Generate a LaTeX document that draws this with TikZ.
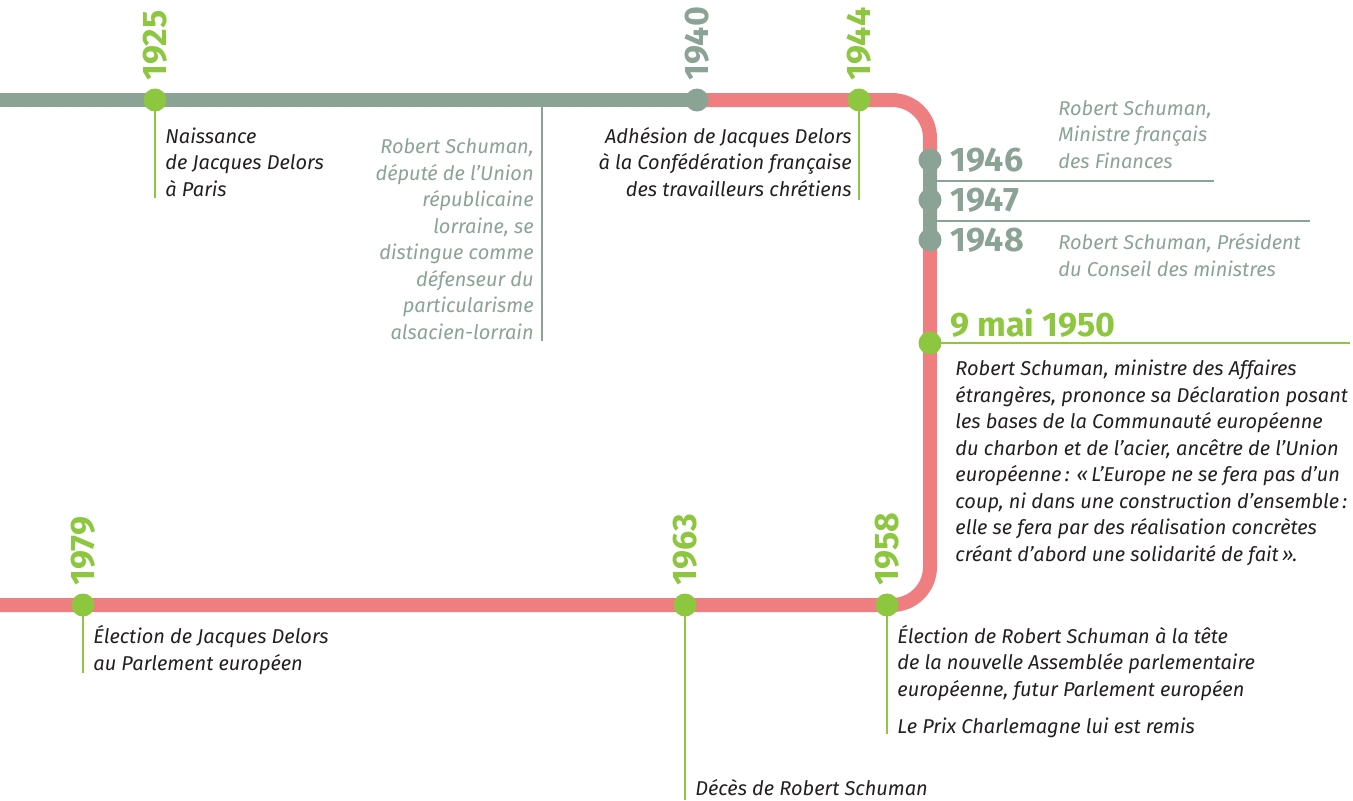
\documentclass[tikz,border=0pt]{standalone}
\usepackage{fontspec}
\setmainfont{Fira Sans}
\usetikzlibrary{backgrounds}
\definecolor{sgreen}{HTML}{8DC63F}
\definecolor{sgrey}{HTML}{8BA394}
\definecolor{spink}{HTML}{EF7E80}
\definecolor{stext}{HTML}{231F20}
\begin{document}
\begin{tikzpicture}[x=0.5pt,y=-0.5pt,
  dot/.style={circle, fill, inner sep=0pt, minimum size=11.5pt},
  track/.style={line width=7pt},
  tick/.style={line width=1.25pt},
  year/.style={font=\fontsize{17}{17}\selectfont\bfseries, inner sep=0pt},
  vyear/.style={year, rotate=90, anchor=west},
  txt/.style={font=\fontsize{10}{13.25}\selectfont\itshape, inner sep=0pt, text=stext},
  gtxt/.style={txt, text=sgrey}]
\useasboundingbox (0,0) rectangle (1353,800);
% route of the line
\coordinate (wtop) at (0,100);
\coordinate (ne) at (930,100);
\coordinate (se) at (930,605);
\coordinate (wbot) at (0,605);
% dates
\node[dot, sgreen] (d1925) at (155,100){};
\node[dot, sgrey] (d1940) at (697,100){};
\node[dot, sgreen] (d1944) at (859,100){};
\node[dot, sgrey] (d1946) at (930,160){};
\node[dot, sgrey] (d1947) at (930,200){};
\node[dot, sgrey] (d1948) at (930,240){};
\node[dot, sgreen] (d1950) at (930,343){};
\node[dot, sgreen] (d1958) at (887,605){};
\node[dot, sgreen] (d1963) at (685,605){};
\node[dot, sgreen] (d1979) at (83,605){};
% tick ends
\coordinate (e1925) at (155,198);
\coordinate (g1) at (542,107);
\coordinate (g2) at (542,341);
\coordinate (e1944) at (859,200);
\coordinate (s1) at (930,181);
\coordinate (s1e) at (1214,181);
\coordinate (s2) at (930,221);
\coordinate (s2e) at (1310,221);
\coordinate (e1950) at (1350,343);
\coordinate (e1958) at (887,734);
\coordinate (e1963) at (685,800);
\coordinate (e1979) at (83,673);
\begin{scope}[on background layer]
\draw[track, sgrey] (wtop) -- (d1940.center);
\draw[track, spink, rounded corners=19pt] (d1940.center) -- (ne) -- (se) -- (wbot);
\draw[track, sgrey] (d1946.center) -- (d1948.center);
\draw[tick, sgreen] (d1925.center) -- (e1925);
\draw[tick, sgrey] (g1) -- (g2);
\draw[tick, sgreen] (d1944.center) -- (e1944);
\draw[tick, sgrey] (s1) -- (s1e);
\draw[tick, sgrey] (s2) -- (s2e);
\draw[tick, sgreen] (d1950.center) -- (e1950);
\draw[tick, sgreen] (d1958.center) -- (e1958);
\draw[tick, sgreen] (d1963.center) -- (e1963);
\draw[tick, sgreen] (d1979.center) -- (e1979);
\end{scope}
% years
\node[vyear, sgreen] (y1925) at (155,81) {1925};
\node[vyear, sgrey] (y1940) at (697,81) {1940};
\node[vyear, sgreen] (y1944) at (859,81) {1944};
\node[vyear, sgreen] (y1979) at (83,586) {1979};
\node[vyear, sgreen] (y1963) at (685,586) {1963};
\node[vyear, sgreen] (y1958) at (887,586) {1958};
\node[year, sgrey, anchor=base west] (y1946) at (950,171) {1946};
\node[year, sgrey, anchor=base west] (y1947) at (950,211) {1947};
\node[year, sgrey, anchor=base west] (y1948) at (950,251) {1948};
\node[year, sgreen, anchor=base west] (y1950) at (950,336) {9 mai 1950};
% events (anchored at the last baseline)
\node[txt, align=left, anchor=base west] (t1925) at (165,196) {Naissance\\de Jacques Delors\\à Paris};
\node[gtxt, align=right, anchor=base east] (t1940) at (534,339) {Robert Schuman,\\député de l’Union\\républicaine\\lorraine, se\\distingue comme\\défenseur du\\particularisme\\alsacien-lorrain};
\node[txt, align=right, anchor=base east] (t1944) at (852,196) {Adhésion de Jacques Delors\\à la Confédération française\\des travailleurs chrétiens};
\node[gtxt, align=left, anchor=base west] (t1946) at (1058,168) {Robert Schuman,\\Ministre français\\des Finances};
\node[gtxt, align=left, anchor=base west] (t1948) at (1058,276) {Robert Schuman, Président\\du Conseil des ministres};
\node[txt, align=left, anchor=base west] (t1950) at (955,561) {Robert Schuman, ministre des Affaires\\étrangères, prononce sa Déclaration posant\\les bases de la Communauté européenne\\du charbon et de l’acier, ancêtre de l’Union\\européenne\,: «\,L’Europe ne se fera pas d’un\\coup, ni dans une construction d’ensemble\,:\\elle se fera par des réalisation concrètes\\créant d’abord une solidarité de fait\,».};
\node[txt, align=left, anchor=base west] (t1979) at (93,670) {Élection de Jacques Delors\\au Parlement européen};
\node[txt, align=left, anchor=base west] (t1958) at (897,696) {Élection de Robert Schuman à la tête\\de la nouvelle Assemblée parlementaire\\européenne, futur Parlement européen};
\node[txt, align=left, anchor=base west] (t1958b) at (897,733) {Le Prix Charlemagne lui est remis};
\node[txt, align=left, anchor=base west] (t1963) at (695,795) {Décès de Robert Schuman};
\end{tikzpicture}
\end{document}
